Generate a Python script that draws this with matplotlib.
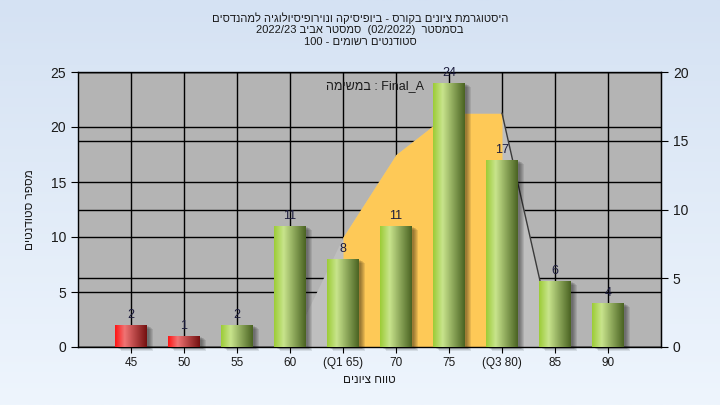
import matplotlib

matplotlib.use("Agg")
import matplotlib.pyplot as plt
import matplotlib.transforms as mtransforms
import numpy as np
from matplotlib.colors import LinearSegmentedColormap
from matplotlib.patches import Rectangle

plt.rcParams["font.family"] = ["Liberation Sans", "DejaVu Sans"]

# data
grades = [45, 50, 55, 60, 65, 70, 75, 80, 85, 90]
tick_labels = ["45", "50", "55", "60", "(Q1 65)", "70", "75", "(Q3 80)", "85", "90"]
student_counts = [2, 1, 2, 11, 8, 11, 24, 17, 6, 4]
passing_grade = 55
# area series, read on the right-hand axis (0-20)
curve_values = [0, 0, 0, 0, 8, 14, 17, 17, 0, 0]
q1_index = 4
q3_index = 7


def rtl(text):
    # matplotlib has no bidi support: hand it the visual order
    return text[::-1]


title_lines = [
    rtl("היסטוגרמת ציונים בקורס - ביופיסיקה ונוירופיסיולוגיה למהנדסים"),
    "2022/23 " + rtl("סמסטר אביב") + "  (02/2022)  " + rtl("בסמסטר"),
    "100 - " + rtl("סטודנטים רשומים"),
]
y_label = rtl("מספר סטודנטים")
x_label = rtl("טווח ציונים")
note = rtl("במשימה") + " : Final_A"

LEFT_MAX = 25
RIGHT_MAX = 20
scale = LEFT_MAX / RIGHT_MAX

fig = plt.figure(figsize=(7.2, 4.05), dpi=100)

# light blue gradient background
bg_ax = fig.add_axes([0, 0, 1, 1], zorder=-10)
bg_cmap = LinearSegmentedColormap.from_list("bg", ["#eef5fd", "#d5e2f3"])
bg_ax.imshow(
    np.linspace(1, 0, 256)[:, None],
    cmap=bg_cmap,
    aspect="auto",
    extent=(0, 1, 0, 1),
)
bg_ax.axis("off")

ax = fig.add_axes([78 / 720, 58 / 405, 583 / 720, 275 / 405])
ax.set_facecolor("#b4b4b4")
ax.set_axisbelow(True)

x = np.arange(len(grades))
curve_left = np.array(curve_values) * scale

# grid: left axis, right axis and category lines
ax.grid(True, color="black", linewidth=1.0)
for t in np.arange(0, RIGHT_MAX + 1, 5):
    ax.axhline(t * scale, color="black", linewidth=1.0, zorder=0.5)

# area series and quartile band
ax.fill_between(x, curve_left, color="#bfbfbf", linewidth=0, zorder=1)
ax.fill_between(
    x[q1_index : q3_index + 1],
    curve_left[q1_index : q3_index + 1],
    color="#fec957",
    linewidth=0,
    zorder=1.2,
)
ax.plot(
    x[q3_index : q3_index + 2],
    curve_left[q3_index : q3_index + 2],
    color="#3a3a3a",
    linewidth=1.0,
    zorder=1.4,
)

# bars with cylinder-like gradient
green = LinearSegmentedColormap.from_list(
    "green", [(0, "#9ccc36"), (0.3, "#c8e48c"), (1, "#4a6322")]
)
red = LinearSegmentedColormap.from_list(
    "red", [(0, "#ff1414"), (0.3, "#f07474"), (1, "#741010")]
)
grad = np.linspace(0, 1, 128)[None, :]

bars = ax.bar(x, student_counts, width=0.6, color="none", linewidth=0, zorder=3)
for grade, bar in zip(grades, bars):
    x0 = bar.get_x()
    w = bar.get_width()
    h = bar.get_height()
    for k in range(1, 6):
        shadow_tr = mtransforms.offset_copy(
            ax.transData, fig=fig, x=k + 1, y=-k * 0.8, units="dots"
        )
        ax.add_patch(
            Rectangle(
                (x0, 0),
                w,
                h,
                transform=shadow_tr,
                color="black",
                alpha=0.09,
                linewidth=0,
                zorder=2,
                clip_on=False,
            )
        )
    cmap = red if grade < passing_grade else green
    im = ax.imshow(
        grad,
        cmap=cmap,
        aspect="auto",
        extent=(x0, x0 + w, 0, h),
        zorder=3,
    )
    im.set_clip_path(bar)

ax.bar_label(bars, padding=3, fontsize=9, color="#1c1c3c")

ax.text(0.425, 0.949, note, transform=ax.transAxes, fontsize=9,
        ha="left", va="center", color="#1a1a1a")

ax.set_xlim(-1, len(grades))
ax.set_ylim(0, LEFT_MAX)
ax.set_xticks(x)
ax.set_xticklabels(tick_labels)
ax.set_yticks(np.arange(0, LEFT_MAX + 1, 5))
ax.tick_params(axis="y", labelsize=10, length=5, color="black", labelcolor="#1a1a1a")
ax.tick_params(axis="x", labelsize=8.5, length=4, color="black", labelcolor="#1a1a1a")

right_ax = ax.secondary_yaxis(
    "right", functions=(lambda y: y / scale, lambda y: y * scale)
)
right_ax.set_yticks(np.arange(0, RIGHT_MAX + 1, 5))
right_ax.tick_params(labelsize=10, length=5, color="black", labelcolor="#1a1a1a")

for spine in ax.spines.values():
    spine.set_color("black")
    spine.set_linewidth(1.0)

for i, line in enumerate(title_lines):
    fig.text(0.5, 1 - (18 + 12 * i) / 405, line, ha="center", va="center",
             fontsize=8, color="#1a1a1a")

fig.text(30 / 720, 1 - 210 / 405, y_label, rotation=90, ha="center",
         va="center", fontsize=8.5, color="#1a1a1a")
fig.text(369 / 720, 1 - 380 / 405, x_label, ha="center", va="center",
         fontsize=8.5, color="#1a1a1a")

fig.savefig("out.png", dpi=100)
plt.close(fig)
